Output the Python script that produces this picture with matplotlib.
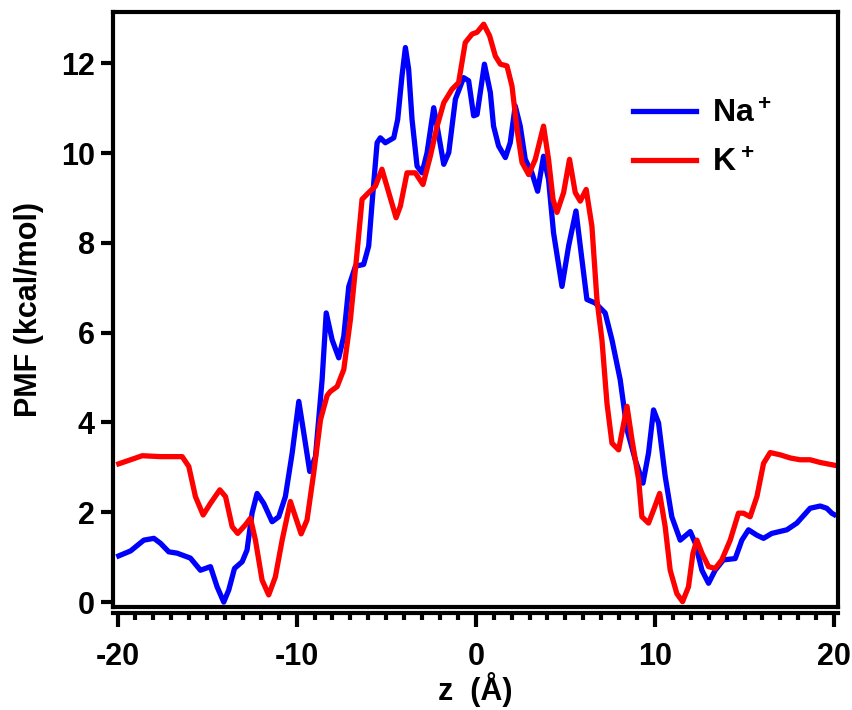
import matplotlib
matplotlib.use('Agg')
import matplotlib.pyplot as plt
from matplotlib.ticker import MultipleLocator

z_na = [-19.93, -19.27, -18.53, -17.97, -17.6, -17.14, -16.67, -15.93, -15.37, -14.81,
        -14.44, -14.07, -13.79, -13.47, -13.04, -12.77, -12.49, -12.21, -11.84, -11.37,
        -11.0, -10.63, -10.25, -9.88, -9.6, -9.27, -8.95, -8.58, -8.35, -8.02,
        -7.65, -7.37, -7.09, -6.72, -6.26, -5.98, -5.79, -5.51, -5.33, -5.05,
        -4.58, -4.36, -4.12, -3.93, -3.75, -3.56, -3.28, -3.0, -2.72, -2.35,
        -2.13, -1.79, -1.51, -1.14, -0.68, -0.40, -0.12, 0.07, 0.48, 0.81,
        0.99, 1.27, 1.65, 1.92, 2.20, 2.48, 2.76, 3.13, 3.45, 3.78,
        4.06, 4.34, 4.81, 5.18, 5.59, 5.83, 6.20, 6.67, 7.22, 7.60,
        8.06, 8.44, 8.90, 9.33, 9.64, 9.92, 10.2, 10.57, 10.94, 11.41,
        11.97, 12.25, 12.62, 12.99, 13.36, 13.82, 14.48, 14.85, 15.22, 15.69,
        16.06, 16.52, 17.36, 17.92, 18.66, 19.22, 19.59, 19.87, 20.0]
pmf_na = [1.03, 1.14, 1.38, 1.42, 1.31, 1.12, 1.09, 0.98, 0.71, 0.79,
          0.34, 0.0, 0.27, 0.75, 0.9, 1.16, 1.98, 2.42, 2.20, 1.79,
          1.90, 2.35, 3.32, 4.47, 3.76, 2.91, 3.24, 4.95, 6.44, 5.84,
          5.44, 5.92, 7.03, 7.48, 7.52, 7.93, 8.89, 10.23, 10.34, 10.23,
          10.34, 10.75, 11.72, 12.35, 11.87, 10.75, 9.71, 9.56, 10.01, 11.01,
          10.53, 9.75, 10.01, 11.2, 11.68, 11.61, 10.83, 10.86, 11.98, 11.35,
          10.6, 10.16, 9.9, 10.23, 11.05, 10.6, 9.86, 9.56, 9.15, 9.93,
          9.41, 8.22, 7.03, 7.93, 8.71, 7.93, 6.74, 6.66, 6.44, 5.84,
          4.95, 3.84, 3.17, 2.65, 3.32, 4.28, 3.99, 2.80, 1.90, 1.38,
          1.57, 1.31, 0.71, 0.42, 0.71, 0.94, 0.97, 1.38, 1.61, 1.49,
          1.42, 1.53, 1.61, 1.76, 2.09, 2.14, 2.09, 1.98, 1.95]

z_k = [-19.93, -19.27, -18.62, -17.6, -16.39, -16.02, -15.65, -15.22, -14.81, -14.29,
       -13.97, -13.60, -13.29, -12.86, -12.58, -12.30, -11.93, -11.56, -11.19, -10.81,
       -10.35, -10.07, -9.75, -9.42, -9.05, -8.67, -8.30, -8.12, -7.74, -7.37,
       -7.0, -6.63, -6.35, -5.98, -5.61, -5.24, -4.86, -4.45, -4.21, -3.84,
       -3.38, -2.95, -2.54, -2.16, -1.79, -1.33, -0.96, -0.59, -0.21, 0.07,
       0.44, 0.77, 1.09, 1.37, 1.74, 2.02, 2.30, 2.58, 2.95, 3.32,
       3.78, 4.06, 4.31, 4.53, 4.90, 5.23, 5.55, 5.83, 6.16, 6.48,
       6.76, 7.04, 7.32, 7.60, 7.97, 8.44, 8.72, 9.09, 9.27, 9.64,
       9.92, 10.26, 10.57, 10.85, 11.22, 11.54, 11.87, 12.12, 12.34, 12.62,
       12.99, 13.36, 13.73, 14.20, 14.66, 14.94, 15.31, 15.69, 16.06, 16.43,
       16.99, 17.55, 18.10, 18.66, 19.22, 19.87, 20.0]
pmf_k = [3.08, 3.17, 3.26, 3.24, 3.24, 3.02, 2.35, 1.94, 2.20, 2.50,
         2.35, 1.68, 1.53, 1.72, 1.87, 1.38, 0.49, 0.16, 0.56, 1.38,
         2.24, 1.90, 1.52, 1.83, 2.87, 4.06, 4.60, 4.69, 4.80, 5.18,
         6.29, 7.78, 8.97, 9.12, 9.26, 9.64, 9.12, 8.56, 8.82, 9.56,
         9.56, 9.30, 9.93, 10.6, 11.12, 11.42, 11.57, 12.46, 12.65, 12.69,
         12.87, 12.61, 12.16, 11.98, 11.94, 11.49, 10.53, 9.79, 9.52, 9.86,
         10.6, 9.86, 8.97, 8.68, 9.12, 9.86, 9.12, 8.93, 9.19, 8.37,
         6.74, 5.84, 4.43, 3.54, 3.39, 4.36, 3.61, 2.72, 1.90, 1.76,
         2.05, 2.42, 1.68, 0.71, 0.19, 0.01, 0.34, 1.09, 1.38, 1.09,
         0.79, 0.75, 0.94, 1.38, 1.98, 1.98, 1.90, 2.35, 3.09, 3.33,
         3.28, 3.21, 3.17, 3.17, 3.11, 3.06, 3.05]

plt.rcParams['font.family'] = ['Liberation Sans', 'DejaVu Sans']
plt.rcParams['font.weight'] = 'bold'
plt.rcParams['axes.unicode_minus'] = False
plt.rcParams['mathtext.fontset'] = 'custom'
plt.rcParams['mathtext.bf'] = 'Liberation Sans:bold'
plt.rcParams['mathtext.rm'] = 'Liberation Sans:bold'
plt.rcParams['mathtext.default'] = 'bf'

fig = plt.figure(figsize=(8.53, 7.10), dpi=100)
ax = fig.add_axes([0.1325, 0.145, 0.85, 0.838])

ax.plot(z_na, pmf_na, color='#0000ff', lw=3.8, solid_joinstyle='round',
        label=r'$\mathbf{Na^+}$')
ax.plot(z_k, pmf_k, color='#ff0000', lw=3.8, solid_joinstyle='round',
        label=r'$\mathbf{K^+}$')

ax.set_xlim(-20.25, 20.22)
ax.set_ylim(-0.11, 13.14)

ax.xaxis.set_major_locator(MultipleLocator(10))
ax.xaxis.set_minor_locator(MultipleLocator(1))
ax.yaxis.set_major_locator(MultipleLocator(2))

for s in ax.spines.values():
    s.set_linewidth(3)
# x axis drawn as a separate comb just below the frame
ax.spines['bottom'].set_position(('outward', 4.5))
ax.plot([0, 1], [0, 0], transform=ax.transAxes, color='black', lw=3,
        clip_on=False, solid_capstyle='projecting')

ax.tick_params(axis='y', which='major', direction='out', length=9, width=3,
               labelsize=22, pad=4)
ax.tick_params(axis='x', which='major', direction='out', length=10, width=3,
               labelsize=22, pad=11)
ax.tick_params(axis='x', which='minor', direction='out', length=5, width=3)

ax.set_xlabel('z  (Å)', fontsize=22, fontweight='bold', labelpad=0)
ax.set_ylabel('PMF (kcal/mol)', fontsize=22, fontweight='bold', labelpad=12)

leg = ax.legend(loc='upper left', bbox_to_anchor=(0.70, 0.875), frameon=False,
                fontsize=23, handlelength=1.95, handletextpad=0.5,
                labelspacing=0.6, borderaxespad=0)

fig.savefig('out.png', dpi=100)
